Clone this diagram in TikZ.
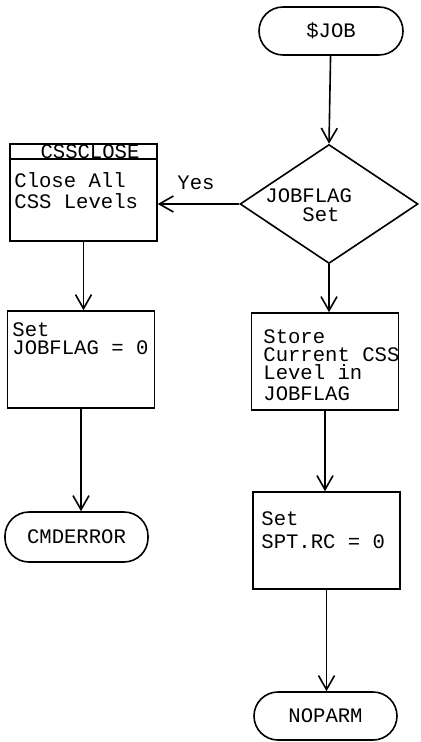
\documentclass[tikz,border=0pt]{standalone}
\usepackage{fontspec}
\setmainfont{Liberation Mono}
\usetikzlibrary{arrows.meta,shapes.geometric}
\begin{document}
\begin{tikzpicture}[x=0.5pt,y=-0.5pt,
  every node/.style={inner sep=0pt, font=\fontsize{10.3}{9}\selectfont},
  proc/.style={draw, rectangle, line width=0.8pt, minimum width=73.5pt, minimum height=48.5pt},
  term/.style={draw, rectangle, rounded corners=12pt, line width=0.8pt, minimum width=72pt, minimum height=24pt},
  dec/.style={draw, diamond, line width=0.8pt, minimum width=89pt, minimum height=59.5pt},
  txt/.style={anchor=north west, align=left},
  arr/.style={line width=0.8pt, -{Straight Barb[length=7pt,width=8pt]}}]
\useasboundingbox (0,0) rectangle (420,742);
% nodes
\node[term] (job) at (331,31) {\$JOB};
\node[dec] (flag) at (329,204) {};
\node[txt] (flagt) at (265,188) {JOBFLAG\\[0.5pt]\phantom{JOB}Set};
\node[proc] (close) at (83.5,192.5) {};
\draw[line width=0.8pt] ([yshift=-8pt]close.north west) -- ([yshift=-8pt]close.north east);
\node (closeh) at (90,152) {CSSCLOSE};
\node[txt] (closet) at (14,172) {Close All\\[1.5pt]CSS Levels};
\node (yes) at (196,183) {Yes};
\node[proc] (set1) at (81,359.5) {};
\node[txt] (set1t) at (12,322) {Set\\JOBFLAG = 0};
\node[term, minimum width=71.5pt, minimum height=25pt] (cmd) at (76.5,537) {CMDERROR};
\node[proc] (store) at (325,361.5) {};
\node[txt] (storet) at (263,329) {Store\\Current CSS\\Level in\\[1.5pt]JOBFLAG};
\node[proc] (src) at (326.5,540.5) {};
\node[txt] (srct) at (261,511) {Set\\[2.5pt]SPT.RC = 0};
\node[term, minimum width=71.5pt] (nop) at (325.5,716) {NOPARM};
% connectors
\draw[arr] (job) -- (flag.north);
\draw[arr] (flag.west) -- (flag.west -| close.east);
\draw[arr] (close.south) -- (close.south |- set1.north);
\draw[arr] (set1.south) -- (set1.south |- cmd.north);
\draw[arr] (flag.south) -- (flag.south |- store.north);
\draw[arr] (store.south) -- (store.south |- src.north);
\draw[arr] (src.south) -- (src.south |- nop.north);
\end{tikzpicture}
\end{document}
